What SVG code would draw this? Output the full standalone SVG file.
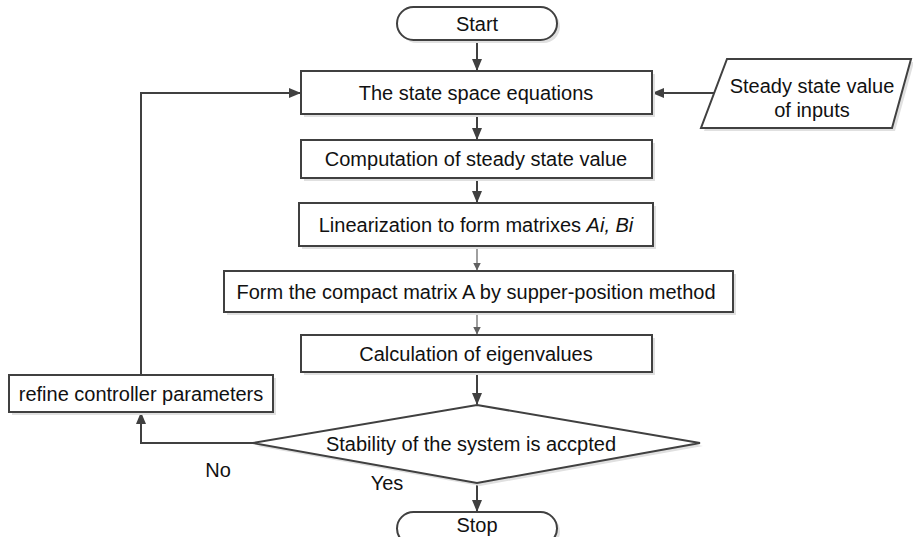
<svg xmlns="http://www.w3.org/2000/svg" width="913" height="537" viewBox="0 0 913 537">
<defs>
<style>
.sh{fill:#e0e0e0;stroke:none}
.nd{fill:#fff;stroke:#404040;stroke-width:2}
.t{font-family:"Liberation Sans",Arial,sans-serif;font-size:20px;fill:#111;text-anchor:middle}
.c{fill:none;stroke:#404040;stroke-width:2}
.ct{fill:none;stroke:#606060;stroke-width:1.2}
</style>
<marker id="ah" viewBox="0 0 12 10" refX="11" refY="5" markerWidth="12" markerHeight="10" markerUnits="userSpaceOnUse" orient="auto">
<path d="M0,0 L12,5 L0,10 Z" fill="#404040"/>
</marker>
<marker id="as" viewBox="0 0 8 8" refX="7.5" refY="4" markerWidth="8" markerHeight="8" markerUnits="userSpaceOnUse" orient="auto">
<path d="M0,0 L8,4 L0,8 Z" fill="#606060"/>
</marker>
</defs>
<rect width="913" height="537" fill="#fff"/>
<g id="connectors">
<line class="c" x1="477" y1="40" x2="477" y2="70" marker-end="url(#ah)"/>
<line class="c" x1="477" y1="114" x2="477" y2="139" marker-end="url(#ah)"/>
<line class="c" x1="477" y1="178" x2="477" y2="202" marker-end="url(#ah)"/>
<line class="ct" x1="477" y1="246" x2="477" y2="270" marker-end="url(#as)"/>
<line class="ct" x1="477" y1="312" x2="477" y2="334" marker-end="url(#as)"/>
<line class="c" x1="477" y1="372" x2="477" y2="404" marker-end="url(#ah)"/>
<line class="c" x1="477" y1="483" x2="477" y2="511" marker-end="url(#ah)"/>
<line class="c" x1="714" y1="93" x2="653" y2="93" marker-end="url(#ah)"/>
<polyline class="c" points="253,443 141,443 141,413" marker-end="url(#ah)"/>
<polyline class="c" points="141,375 141,93 300,93" marker-end="url(#ah)"/>
</g>
<g id="start">
<rect class="sh" x="400" y="10" width="160" height="33" rx="16.5"/>
<rect class="nd" x="397" y="7" width="160" height="33" rx="16.5"/>
<text class="t" x="477" y="30.5">Start</text>
</g>
<g id="state-space">
<rect class="sh" x="304" y="74" width="351" height="43"/>
<rect class="nd" x="301" y="71" width="351" height="43"/>
<text class="t" x="476" y="99.5">The state space equations</text>
</g>
<g id="inputs">
<polygon class="sh" points="730,62 914,62 895,131 704,131"/>
<polygon class="nd" points="727,59 911,59 892,128 701,128"/>
<text class="t" x="812" y="93">Steady state value</text>
<text class="t" x="812" y="117">of inputs</text>
</g>
<g id="steady">
<rect class="sh" x="304" y="143" width="351" height="38"/>
<rect class="nd" x="301" y="140" width="351" height="38"/>
<text class="t" x="476" y="166">Computation of steady state value</text>
</g>
<g id="linearization">
<rect class="sh" x="302" y="206" width="354" height="43"/>
<rect class="nd" x="299" y="203" width="354" height="43"/>
<text class="t" x="476" y="231.5">Linearization to form matrixes <tspan font-style="italic">Ai, Bi</tspan></text>
</g>
<g id="compact">
<rect class="sh" x="227" y="274" width="509" height="41"/>
<rect class="nd" x="224" y="271" width="509" height="41"/>
<text class="t" x="476" y="298.5">Form the compact matrix A by supper-position method</text>
</g>
<g id="eigen">
<rect class="sh" x="304" y="338" width="351" height="37"/>
<rect class="nd" x="301" y="335" width="351" height="37"/>
<text class="t" x="476" y="360.5">Calculation of eigenvalues</text>
</g>
<g id="refine">
<rect class="sh" x="12" y="378" width="264" height="37"/>
<rect class="nd" x="9" y="375" width="264" height="37"/>
<text class="t" x="141" y="400.5">refine controller parameters</text>
</g>
<g id="decision">
<polygon class="sh" points="480,408 703,446 480,486 256,446"/>
<polygon class="nd" points="477,405 700,443 477,483 253,443"/>
<text class="t" x="471" y="451">Stability of the system is accpted</text>
</g>
<g id="labels">
<text class="t" x="218" y="477">No</text>
<text class="t" x="387" y="490">Yes</text>
</g>
<g id="stop">
<rect class="sh" x="400" y="515" width="160" height="33" rx="16.5"/>
<rect class="nd" x="397" y="512" width="160" height="33" rx="16.5"/>
<text class="t" x="477" y="532">Stop</text>
</g>
</svg>
